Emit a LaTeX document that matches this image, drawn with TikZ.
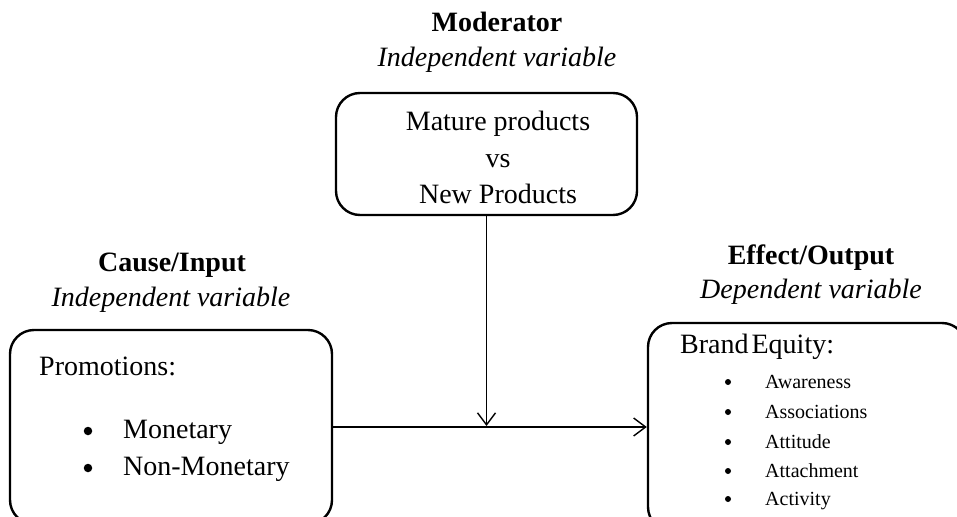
\documentclass[tikz,border=0pt]{standalone}
\usepackage{fontspec}
\setmainfont{Liberation Serif}
\usetikzlibrary{arrows.meta}
\begin{document}
\begin{tikzpicture}[x=1pt,y=-1pt,
  box/.style={draw, line width=2.4pt, rounded corners=24pt, inner sep=0pt},
  big/.style={font=\fontsize{28}{34}\selectfont, inner sep=0pt},
  small/.style={font=\fontsize{20}{24}\selectfont, inner sep=0pt},
  head/.style={font=\fontsize{28}{34}\selectfont\bfseries, inner sep=0pt, anchor=base},
  sub/.style={font=\fontsize{28}{34}\selectfont\itshape, inner sep=0pt, anchor=base},
  dotbig/.style={circle, fill, inner sep=0pt, minimum size=8.5pt},
  dotsmall/.style={circle, fill, inner sep=0pt, minimum size=6pt},
  arr/.style={line width=1.4pt, -{Straight Barb[length=12pt,width=18pt,line width=1.4pt]}}]
\useasboundingbox (0,0) rectangle (957,516);
\begin{scope}
\clip (0,0) rectangle (957,516);
% boxes
\node[box, minimum width=301pt, minimum height=122pt] (mod) at (486.5,154) {};
\node[box, minimum width=322pt, minimum height=194pt] (cause) at (171,427) {};
\node[box, minimum width=318pt, minimum height=208pt] (effect) at (807,427) {};
\end{scope}
% headings
\node[head] (modh) at (497,32) {Moderator};
\node[sub] (modsub) at (497,67) {Independent variable};
\node[head] (causeh) at (172,271) {Cause/Input};
\node[sub] (causesub) at (171,306) {Independent variable};
\node[head] (effh) at (811,264) {Effect/Output};
\node[sub] (effsub) at (811,298) {Dependent variable};
% moderator text
\node[big, anchor=base] (m1) at (498,130) {Mature products};
\node[big, anchor=base] (m2) at (498,167) {vs};
\node[big, anchor=base] (m3) at (498,203) {New Products};
% cause text
\node[big, anchor=base west] (p0) at (39,375) {Promotions:};
\node[dotbig] (pb1) at (88,431) {};
\node[big, anchor=base west] (p1) at (123,438) {Monetary};
\node[dotbig] (pb2) at (88,468) {};
\node[big, anchor=base west] (p2) at (123,475) {Non-Monetary};
% effect text
\node[big, anchor=base west] (b0) at (680,353) {Brand\hspace{3pt}Equity:};
\foreach \t/\yy [count=\i] in {Awareness/388, Associations/418, Attitude/448, Attachment/477, Activity/505}{
  \node[dotsmall] (bb\i) at (728,\yy-6) {};
  \node[small, anchor=base west] (bi\i) at (765,\yy) {\t};
}
% connectors
\coordinate (j) at (mod.south |- cause.east);
\draw[arr] (cause.east) -- (effect.west);
\draw[arr] (mod.south) -- ([yshift=1pt]j);
\end{tikzpicture}
\end{document}
